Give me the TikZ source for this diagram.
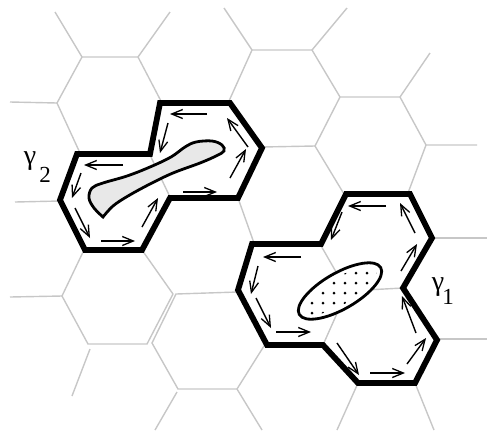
\documentclass[tikz,border=0pt]{standalone}
\usepackage{fontspec}
\setmainfont{Liberation Serif}
\usetikzlibrary{arrows.meta}
\begin{document}
\begin{tikzpicture}[x=1pt,y=-1pt,
  grid/.style={draw=black!22, line width=1.4pt},
  bound/.style={draw=black, line width=5.8pt, line join=miter},
  flow/.style={draw=black, line width=1.4pt, -{Straight Barb[length=11pt,width=9pt,line width=1.3pt]}},
  blob/.style={draw=black, line width=2.8pt, fill=black!9},
  lab/.style={inner sep=0pt, font=\fontsize{28}{28}\selectfont},
  sub/.style={inner sep=0pt, font=\fontsize{23}{23}\selectfont}
]
\useasboundingbox (0,0) rectangle (487,432);
% ---------- grey hexagonal grid ----------
\draw[grid] (55,12)--(82,57)--(138,57)--(170,12);
\draw[grid] (82,57)--(57,103)--(80,153);
\draw[grid] (10,102)--(57,103);
\draw[grid] (138,57)--(162,103);
\draw[grid] (224,8)--(252,50)--(312,50)--(347,8);
\draw[grid] (252,50)--(229,101);
\draw[grid] (312,50)--(340,97)--(400,97)--(430,53);
\draw[grid] (340,97)--(315,146)--(344,194);
\draw[grid] (262,147)--(315,146);
\draw[grid] (400,97)--(426,145)--(477,145);
\draw[grid] (426,145)--(408,193);
\draw[grid] (15,202)--(60,201);
\draw[grid] (150,155)--(170,197);
\draw[grid] (238,198)--(254,243);
\draw[grid] (142,250)--(173,294);
\draw[grid] (84,250)--(62,296)--(88,344)--(147,344)--(173,294);
\draw[grid] (10,297)--(62,296);
\draw[grid] (238,292)--(176,294)--(152,343)--(178,389)--(237,389)--(264,346);
\draw[grid] (237,389)--(262,430);
\draw[grid] (177,392)--(155,430);
\draw[grid] (90,349)--(72,396);
\draw[grid] (320,244)--(347,291)--(403,288);
\draw[grid] (347,291)--(323,345);
\draw[grid] (432,238)--(487,238);
\draw[grid] (437,339)--(487,339);
\draw[grid] (358,383)--(337,430);
\draw[grid] (415,383)--(434,430);
% ---------- gamma_2 ----------
\draw[blob] plot[smooth, tension=0.6] coordinates {(103,217) (94,208) (89,198) (92,188) (103,183) (127,176) (150,167) (171,157) (185,147) (196,142) (212,141) (222,145) (224,151) (216,156) (200,163) (173,173) (150,184) (128,196) (113,206) (103,217)} -- cycle;
\draw[bound] (77,154)--(150,154)--(160,103)--(230,103)--(262,148)--(238,198)--(170,198)--(142,250)--(85,250)--(60,200)--cycle;
\draw[flow] (207,114)--(170,114);
\draw[flow] (168,123)--(160,153);
\draw[flow] (123,165)--(84,165);
\draw[flow] (81,173)--(72,198);
\draw[flow] (75,208)--(90,238);
\draw[flow] (101,241)--(135,241);
\draw[flow] (142,227)--(158,198);
\draw[flow] (183,192)--(217,192);
\draw[flow] (230,178)--(246,149);
\draw[flow] (248,147)--(227,118);
% ---------- gamma_1 ----------
\draw[fill=white, line width=2.8pt, rotate around={30:(340,291)}] (340,291) ellipse [x radius=47, y radius=18];
\begin{scope}
  \clip[rotate around={30:(340,291)}] (340,291) ellipse [x radius=42, y radius=13.5];
  \foreach \px in {290,301,312,323,334,345,356,367,378,389} {
    \foreach \py in {263,273,283,293,303,313,323} {
      \fill (\px,\py) circle (1.5);
    }
  }
\end{scope}
\draw[bound] (252,244)--(321,244)--(346,194)--(410,194)--(432,238)--(403,288)--(437,340)--(415,383)--(358,383)--(323,345)--(267,345)--(238,290)--cycle;
\draw[flow] (386,206)--(348,206);
\draw[flow] (342,212)--(331,240);
\draw[flow] (301,257)--(263,257);
\draw[flow] (258,266)--(251,294);
\draw[flow] (256,298)--(271,328);
\draw[flow] (276,332)--(311,332);
\draw[flow] (337,343)--(359,375);
\draw[flow] (370,373)--(405,373);
\draw[flow] (407,364)--(426,338);
\draw[flow] (416,333)--(402,296);
\draw[flow] (401,271)--(417,244);
\draw[flow] (415,233)--(400,203);
% ---------- labels ----------
\node[lab] (g2) at (30,161) {γ};
\node[sub] (g2s) at (45,175) {2};
\node[lab] (g1) at (438,287) {γ};
\node[sub] (g1s) at (448,297) {1};
\end{tikzpicture}
\end{document}
